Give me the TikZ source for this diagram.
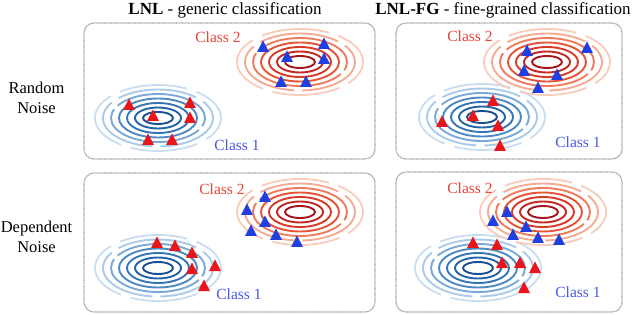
\documentclass[tikz,border=0pt]{standalone}
\usepackage{fontspec}
\setmainfont{Liberation Serif}
\definecolor{bc0}{HTML}{1A4F8F}
\definecolor{bc1}{HTML}{2463A6}
\definecolor{bc2}{HTML}{3575B6}
\definecolor{bc3}{HTML}{4D8AC4}
\definecolor{bc4}{HTML}{79A9D6}
\definecolor{bc5}{HTML}{A9CAE8}
\definecolor{bc6}{HTML}{C9DDF1}
\definecolor{rc0}{HTML}{A3141C}
\definecolor{rc1}{HTML}{C52722}
\definecolor{rc2}{HTML}{D83A26}
\definecolor{rc3}{HTML}{E55436}
\definecolor{rc4}{HTML}{EE7C5C}
\definecolor{rc5}{HTML}{F5AA92}
\definecolor{rc6}{HTML}{F9CBBA}
\definecolor{tblue}{HTML}{1F3FE0}
\definecolor{tred}{HTML}{E8161A}
\definecolor{lblue}{HTML}{4A57E6}
\definecolor{lred}{HTML}{EC4338}
\tikzset{
  ring/.style={line width=1.9pt},
  panel/.style={draw=gray!75, line width=1.1pt, dash pattern=on 0.7pt off 0.5pt, rounded corners=10pt},
  title/.style={font=\fontsize{17}{20}\selectfont, inner sep=0pt},
  rowlab/.style={font=\fontsize{16.5}{20}\selectfont, align=center, inner sep=0pt},
  c2/.style={text=lred, font=\fontsize{15.5}{18}\selectfont, inner sep=0pt},
  c1/.style={text=lblue, font=\fontsize{15.5}{18}\selectfont, inner sep=0pt}
}
\newcommand\contour[3]{%
  \begin{scope}[shift={(#1,#2)}]
    \draw[#36, ring, line width=1.8pt, dash pattern=on 68pt off 10pt, dash phase=30pt] (0,0) ellipse [x radius=63pt, y radius=33pt];
    \draw[#35, ring, dash pattern=on 80pt off 8pt, dash phase=60pt] (0,0) ellipse [x radius=55pt, y radius=28.5pt];
    \draw[#34, ring, dash pattern=on 110pt off 5pt, dash phase=10pt] (0,0) ellipse [x radius=47pt, y radius=24pt];
    \draw[#33, ring] (0,0) ellipse [x radius=39pt, y radius=19.5pt];
    \draw[#32, ring] (0,0) ellipse [x radius=31pt, y radius=15pt];
    \draw[#31, ring] (0,0) ellipse [x radius=23pt, y radius=10.5pt];
    \draw[#30, ring] (0,0) ellipse [x radius=15pt, y radius=6pt];
  \end{scope}}
\newcommand\tri[3]{\fill[#3, shift={(#1,#2)}] (-6,5) -- (6,5) -- (0,-6.5) -- cycle;}
\begin{document}
\begin{tikzpicture}[x=1pt, y=-1pt]
\useasboundingbox (0,0) rectangle (640,315);
% titles
\node[title] (t1) at (225,10) {\textbf{LNL} - generic classification};
\node[title] (t2) at (503,10) {\textbf{LNL-FG} - fine-grained classification};
\node[rowlab] (r1) at (36.5,98) {Random\\Noise};
\node[rowlab] (r2) at (36.5,237) {Dependent\\Noise};
% panels
\draw[panel] (84,23) rectangle (375,159);
\draw[panel] (396,23) rectangle (622,159);
\draw[panel] (84,173) rectangle (375,312);
\draw[panel] (396,172) rectangle (622,312);
% ---- top left
\contour{158}{118}{bc}
\contour{300}{62}{rc}
\tri{129}{105}{tred}\tri{190}{103}{tred}\tri{153}{116}{tred}
\tri{190}{118}{tred}\tri{148}{140}{tred}\tri{172}{140}{tred}
\tri{263}{47}{tblue}\tri{324}{44}{tblue}\tri{287}{57}{tblue}
\tri{324}{59}{tblue}\tri{281}{82}{tblue}\tri{306}{82}{tblue}
\node[c2] (a2) at (218,37) {Class 2};
\node[c1] (a1) at (237,145) {Class 1};
% ---- top right
\contour{482}{117}{bc}
\contour{547}{62}{rc}
\tri{527}{51}{tblue}\tri{587}{48}{tblue}\tri{524}{71}{tblue}
\tri{557}{75}{tblue}\tri{538}{88}{tblue}
\tri{493}{101}{tred}\tri{473}{116}{tred}\tri{442}{122}{tred}
\tri{498}{126}{tred}\tri{500}{146}{tred}
\node[c2] (b2) at (470,36) {Class 2};
\node[c1] (b1) at (578,142) {Class 1};
% ---- bottom left
\contour{158}{268}{bc}
\contour{300}{212}{rc}
\tri{265}{197}{tblue}\tri{247}{210}{tblue}\tri{265}{222}{tblue}
\tri{251}{231}{tblue}\tri{276}{235}{tblue}\tri{297}{242}{tblue}
\tri{157}{243}{tred}\tri{175}{246}{tred}\tri{192}{253}{tred}
\tri{215}{266}{tred}\tri{192}{269}{tred}\tri{204}{286}{tred}
\node[c2] (c2) at (222,189) {Class 2};
\node[c1] (c1) at (239,294) {Class 1};
% ---- bottom right
\contour{478}{268}{bc}
\contour{543}{212}{rc}
\tri{507}{212}{tblue}\tri{493}{221}{tblue}\tri{526}{227}{tblue}
\tri{513}{235}{tblue}\tri{538}{238}{tblue}\tri{559}{240}{tblue}
\tri{473}{243}{tred}\tri{497}{245}{tred}\tri{520}{263}{tred}
\tri{502}{263}{tred}\tri{535}{268}{tred}\tri{524}{288}{tred}
\node[c2] (d2) at (470,188) {Class 2};
\node[c1] (d1) at (578,292) {Class 1};
\end{tikzpicture}
\end{document}
